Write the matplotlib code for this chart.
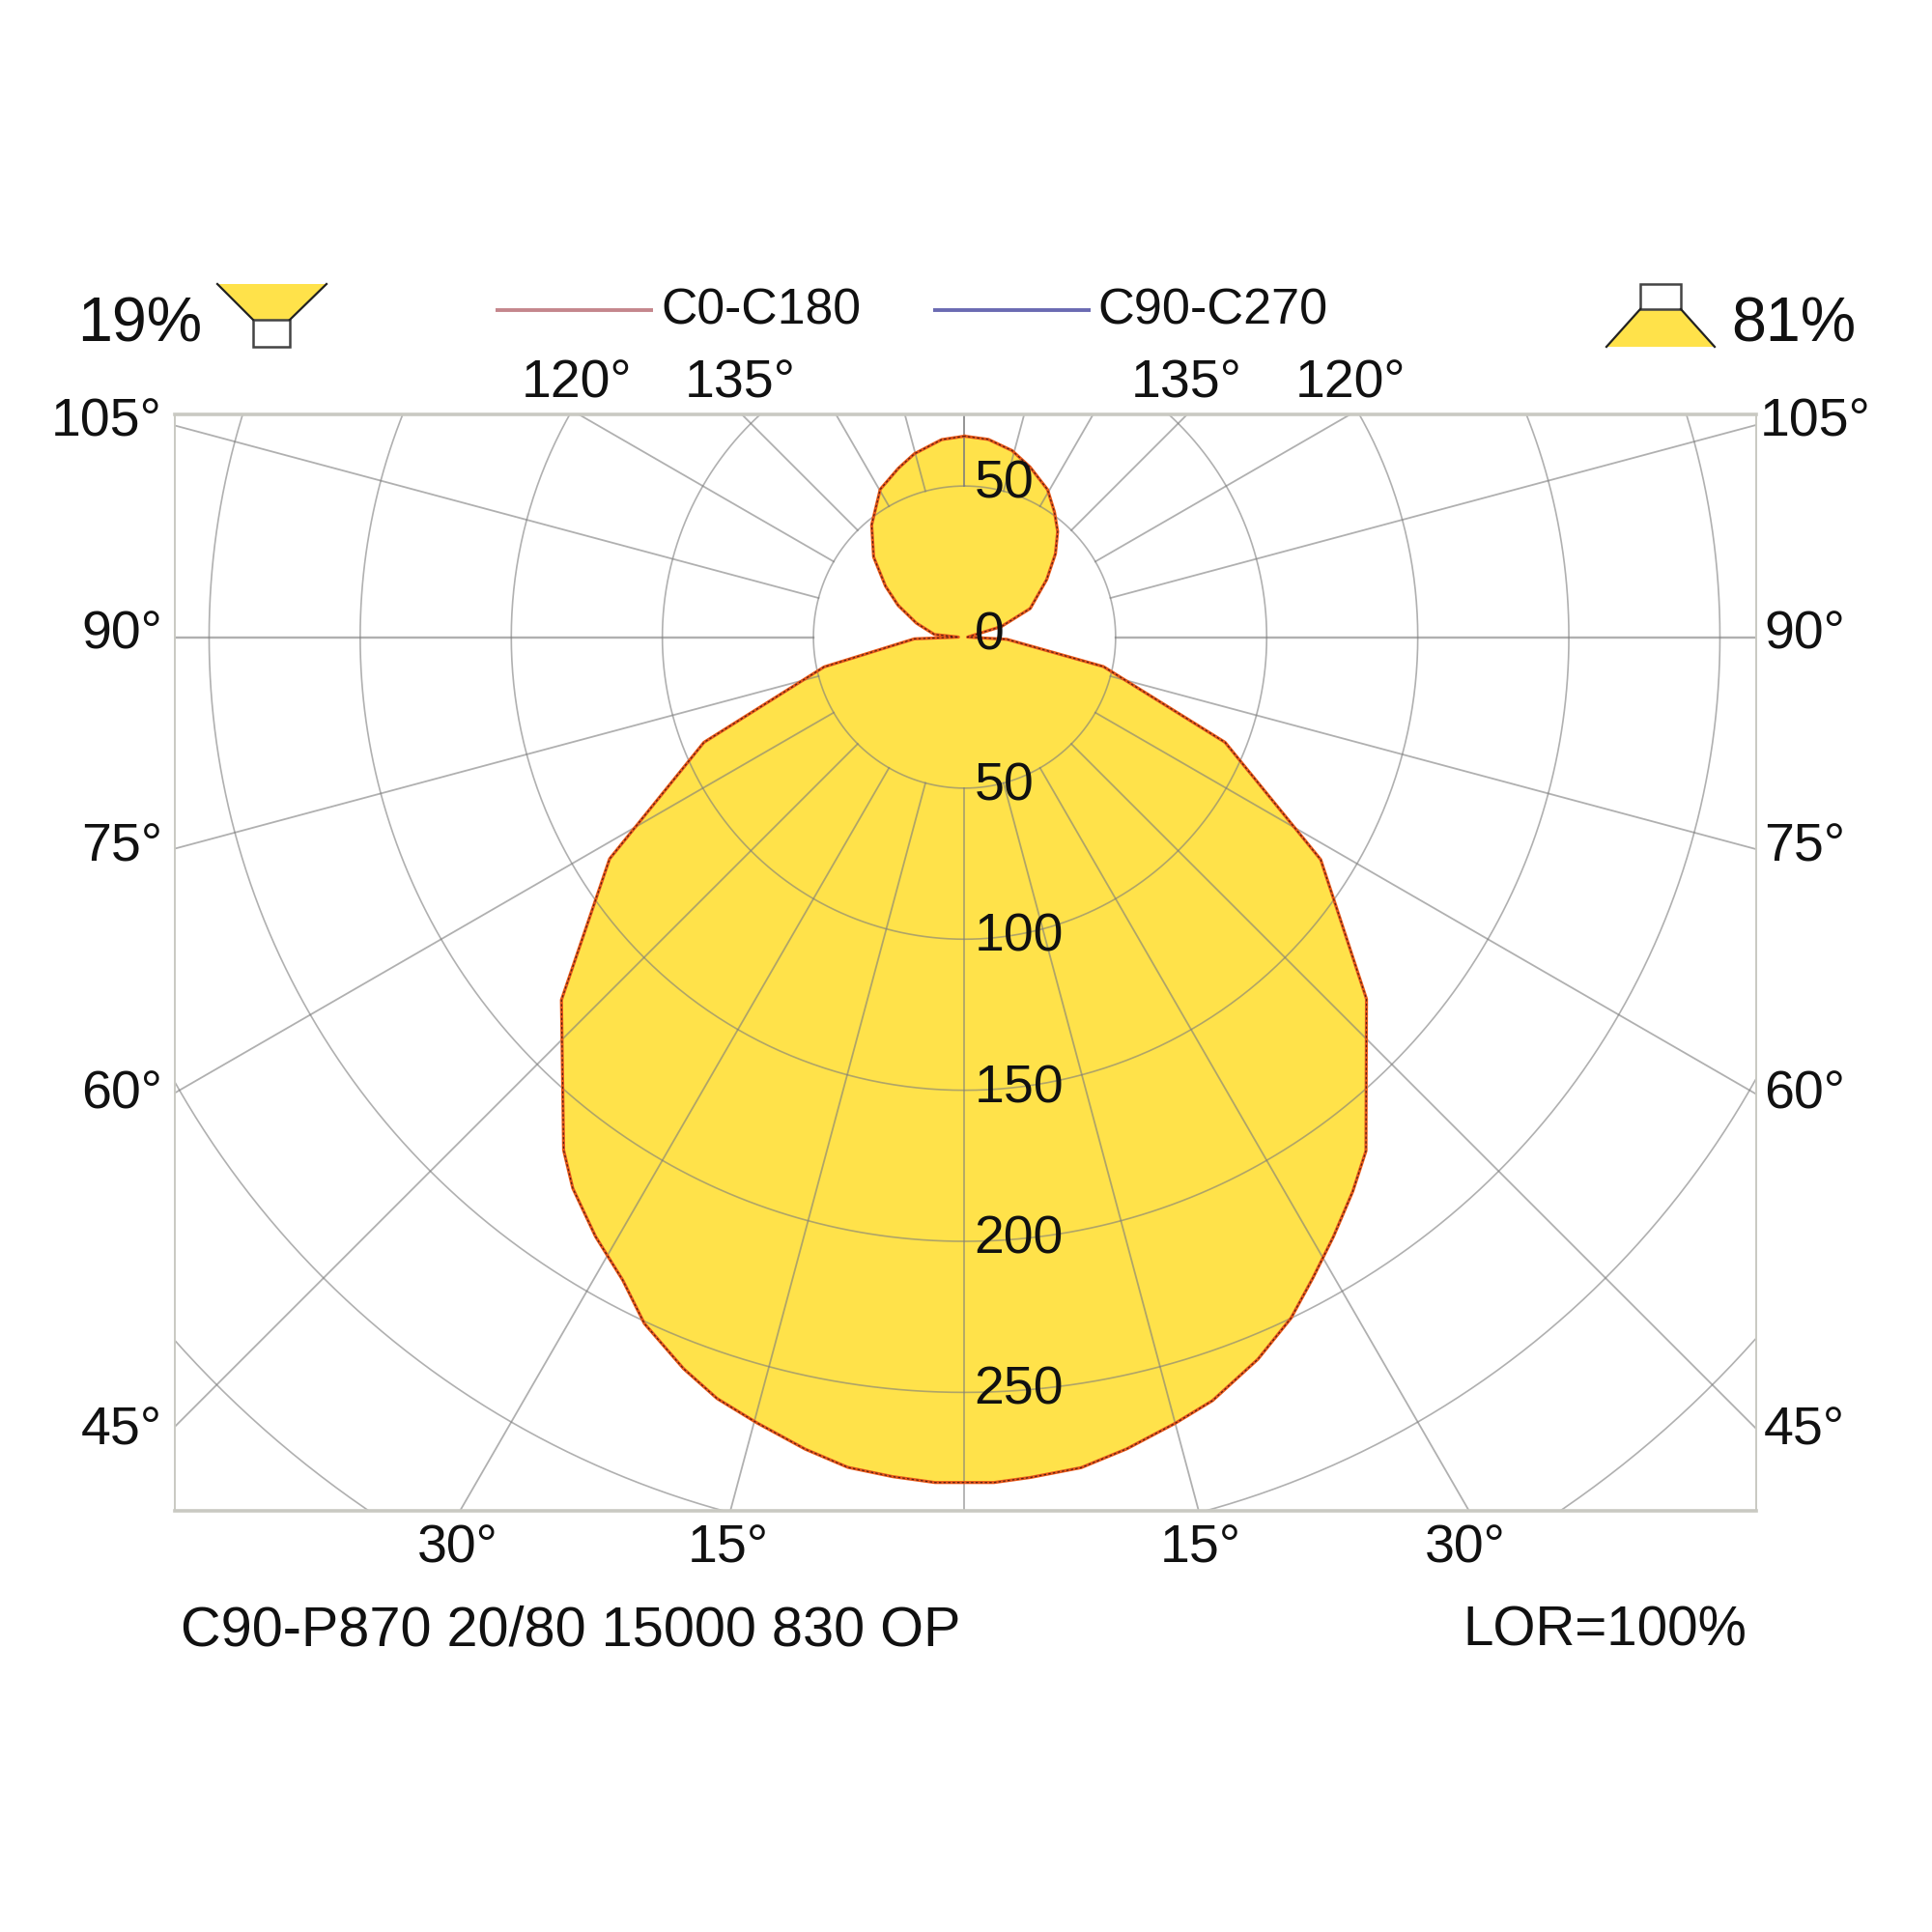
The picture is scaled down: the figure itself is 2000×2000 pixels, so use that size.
import numpy as np
import matplotlib
matplotlib.use('Agg')
import matplotlib.pyplot as plt
from matplotlib.patches import Polygon, Rectangle

plt.rcParams['font.family'] = ['Liberation Sans', 'DejaVu Sans']

# photometric curve, signed angle from nadir (deg) and cd/klm
gamma = [-180, -173.4, -164.7, -158.6, -150.3, -140.4, -131.4, -122.8, -115.6, -106.2, -95, -90,
         -88, -78, -68, -58, -48, -38, -35.4, -31.6, -28, -25, -21, -18, -14.8, -11.1, -8, -4.9, -2,
         2, 4.5, 8, 11.3, 15, 18, 22.1, 25.6, 28.5, 31.6, 35, 38, 48, 58, 68, 78, 87, 90,
         106, 113.5, 125, 132.5, 138.6, 144.3, 150.6, 158.9, 165.7, 173.1, 180]
intensity = [66.5, 65.8, 62.9, 60, 56.3, 48.2, 40.1, 31.1, 24.4, 16.6, 10, 2,
             16.6, 47.5, 93, 138.5, 179.5, 215.5, 223.8, 233, 241, 250.7, 259.4, 265, 269, 273.9, 277.5, 278.9, 280,
             280, 279, 277.6, 274, 269.4, 265.7, 258, 250, 241.5, 233, 224, 215.8, 179, 139, 93, 47, 14, 1,
             12.7, 23.7, 33.2, 40.8, 46.6, 51, 56, 60.3, 63.7, 65.9, 66.5]

radii = [50, 100, 150, 200, 250, 300, 350]
radial_labels = [0, 50, 50, 100, 150, 200, 250]
radial_pos = [0, 50, -50, -100, -150, -200, -250]
spoke_angles = np.arange(-180, 181, 15)

fill_color = '#ffe24a'
grid_color = '#7c7c7c'
frame_color = '#c9c9c2'

fig = plt.figure(figsize=(20, 20), dpi=100)

# main axes, units are cd/klm
ax = fig.add_axes([180.5 / 2000, 1 - 1564 / 2000, (1818 - 180.5) / 2000, (1564 - 429) / 2000])
ax.set_xlim(-261.5, 262)
ax.set_ylim(-289.2, 73.7)
ax.set_xticks([])
ax.set_yticks([])
for side in ['top', 'bottom']:
    ax.spines[side].set_linewidth(2.6)
    ax.spines[side].set_color(frame_color)
for side in ['left', 'right']:
    ax.spines[side].set_linewidth(1.4)
    ax.spines[side].set_color(frame_color)

rad = np.radians(gamma)
curve_x = np.array(intensity) * np.sin(rad)
curve_y = -np.array(intensity) * np.cos(rad)
ax.fill(curve_x, curve_y, color=fill_color, lw=0, zorder=1)

# grid
theta = np.radians(np.arange(0, 360.5, 0.5))
for r in radii:
    ax.plot(r * np.sin(theta), r * np.cos(theta), color=grid_color, alpha=0.6, lw=1.2, zorder=2)
for a in spoke_angles:
    if abs(a) == 90:
        lw = 1.7
    else:
        lw = 1.3
    t = np.radians(a)
    ax.plot([50 * np.sin(t), 500 * np.sin(t)], [-50 * np.cos(t), -500 * np.cos(t)],
            color=grid_color, alpha=0.6, lw=lw, zorder=2)

# C0-C180 and C90-C270 lie on top of each other
ax.plot(curve_x, curve_y, color='#e8591a', lw=2.3, zorder=3)
ax.plot(curve_x, curve_y, color='#5a1f14', lw=0.9, ls=(0, (2, 1.8)), zorder=4)

for lab, pos in zip(radial_labels, radial_pos):
    ax.text(3.2, pos - 4, str(lab), fontsize=40, color='#111111', ha='left', va='baseline', zorder=5)

# everything around the frame, in pixels of the 2000x2000 picture
deco = fig.add_axes([0, 0, 1, 1])
deco.set_xlim(0, 2000)
deco.set_ylim(2000, 0)
deco.axis('off')
deco.patch.set_alpha(0)


def label(x, y, s, size=40, ha='left'):
    deco.text(x, y, s, fontsize=size, color='#111111', ha=ha, va='baseline')


label(80, 353, '19%', 46.5)
label(1792, 353, '81%', 46.5)
label(684, 336, 'C0-C180', 37.3)
label(1136, 336, 'C90-C270', 37.6)
deco.plot([513, 676], [320.5, 320.5], color='#c4868c', lw=2.8, solid_capstyle='butt')
deco.plot([966, 1129], [320.5, 320.5], color='#6a6ab2', lw=2.8, solid_capstyle='butt')

label(540, 411, '120°')
label(709, 411, '135°')
label(1171, 411, '135°')
label(1341, 411, '120°')

label(168, 451, '105°', ha='right')
label(168, 672, '90°', ha='right')
label(168, 892, '75°', ha='right')
label(168, 1147, '60°', ha='right')
label(168, 1496, '45°', ha='right')
label(1822, 451, '105°')
label(1826, 672, '90°')
label(1826, 892, '75°')
label(1826, 1147, '60°')
label(1826, 1496, '45°')

label(432, 1617, '30°')
label(712, 1617, '15°')
label(1201, 1617, '15°')
label(1475, 1617, '30°')

label(187, 1704, 'C90-P870 20/80 15000 830 OP', 41.5)
label(1808, 1704, 'LOR=100%', 40.7, ha='right')

# up and down light icons
deco.add_patch(Polygon([(225, 294), (338, 294), (300, 331), (262, 331)], closed=True,
                       facecolor=fill_color, edgecolor='none'))
deco.plot([225, 262], [294, 331], color='#222222', lw=1.6)
deco.plot([338, 300], [294, 331], color='#222222', lw=1.6)
deco.add_patch(Rectangle((262, 331), 38, 28, facecolor='white', edgecolor='#444444', lw=1.8))

deco.add_patch(Polygon([(1698, 320), (1740, 320), (1775, 359), (1663, 359)], closed=True,
                       facecolor=fill_color, edgecolor='none'))
deco.plot([1698, 1663], [320, 359], color='#222222', lw=1.6)
deco.plot([1740, 1775], [320, 359], color='#222222', lw=1.6)
deco.add_patch(Rectangle((1698, 294), 42, 26, facecolor='white', edgecolor='#444444', lw=1.8))

fig.savefig('out.png', dpi=100, facecolor='white')
